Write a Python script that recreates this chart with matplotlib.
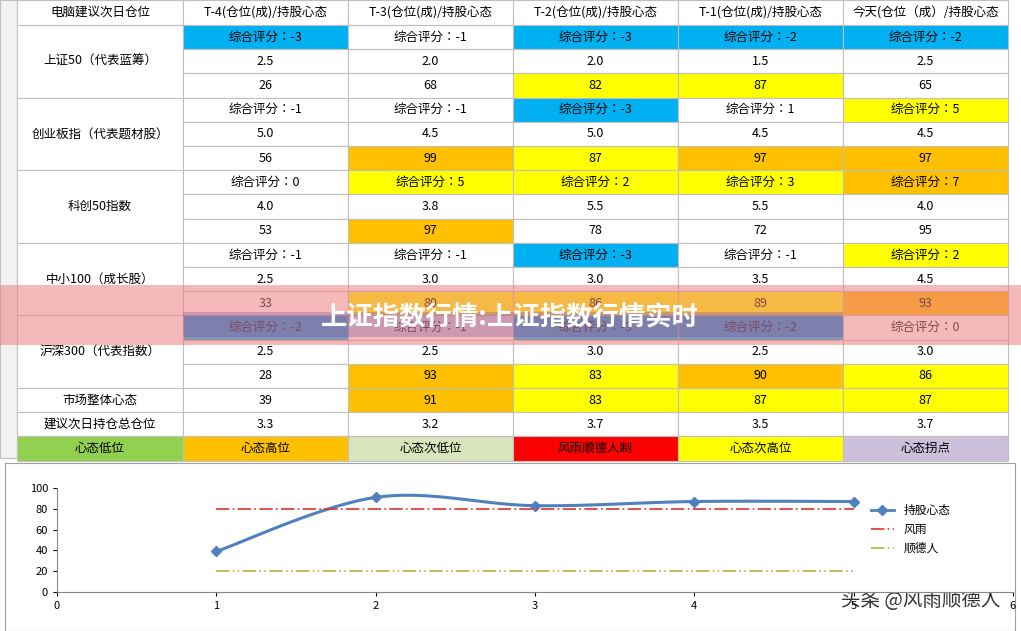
import matplotlib
matplotlib.use("Agg")
import matplotlib.pyplot as plt
from matplotlib import font_manager as fm
from matplotlib.patches import Rectangle
from matplotlib.lines import Line2D
import numpy as np

names = sorted({f.name for f in fm.fontManager.ttflist})
cjk = [n for n in names if "CJK" in n] or [n for n in names if "Noto" in n]
print(cjk)
plt.rcParams["font.family"] = cjk + ["DejaVu Sans"]

headers = ["电脑建议次日仓位", "T-4(仓位(成)/持股心态", "T-3(仓位(成)/持股心态", "T-2(仓位(成)/持股心态",
           "T-1(仓位(成)/持股心态", "今天(仓位（成）/持股心态"]
indices = ["上证50（代表蓝筹）", "创业板指（代表题材股）", "科创50指数", "中小100（成长股）", "沪深300（代表指数）"]
scores = [[-3, -1, -3, -2, -2], [-1, -1, -3, 1, 5], [0, 5, 2, 3, 7], [-1, -1, -3, -1, 2], [-2, -1, -3, -2, 0]]
score_colors = [["B", "W", "B", "B", "B"], ["W", "W", "B", "W", "Y"], ["W", "Y", "Y", "Y", "O"],
                ["W", "W", "B", "W", "Y"], ["B", "W", "B", "B", "W"]]
positions = [["2.5", "2.0", "2.0", "1.5", "2.5"], ["5.0", "4.5", "5.0", "4.5", "4.5"], ["4.0", "3.8", "5.5", "5.5", "4.0"],
             ["2.5", "3.0", "3.0", "3.5", "4.5"], ["2.5", "2.5", "3.0", "2.5", "3.0"]]
mood = [[26, 68, 82, 87, 65], [56, 99, 87, 97, 97], [53, 97, 78, 72, 95], [33, 80, 86, 89, 93], [28, 93, 83, 90, 86]]
mood_colors = [["W", "W", "Y", "Y", "W"], ["W", "O", "Y", "O", "O"], ["W", "O", "W", "W", "W"],
               ["W", "Y", "Y", "Y", "O"], ["W", "O", "Y", "O", "Y"]]
market = [39, 91, 83, 87, 87]
market_colors = ["W", "O", "Y", "Y", "Y"]
advice = ["3.3", "3.2", "3.7", "3.5", "3.7"]
legend_labels = ["心态低位", "心态高位", "心态次低位", "风雨顺德人制", "心态次高位", "心态拐点"]
legend_fill = ["#92D050", "#FFC000", "#D8E4BC", "#FF0000", "#FFFF00", "#CCC0DA"]
days = [1, 2, 3, 4, 5]
line_mood = market
line_storm = [80, 80, 80, 80, 80]
line_shunde = [20, 20, 20, 20, 20]

cmap = {"W": "white", "B": "#00B0F0", "Y": "#FFFF00", "O": "#FFC000"}

fig = plt.figure(figsize=(10.21, 6.31), dpi=100)
ax = fig.add_axes([0, 0, 1, 1])
ax.set_xlim(0, 1021); ax.set_ylim(631, 0); ax.axis("off")

xs = [17, 183, 348, 513, 678, 843, 1008]
rh = 24.2
y0 = 25
grid = "#BFBFBF"

def cell(x0, x1, ya, yb, txt, fc="white", **kw):
    ax.add_patch(Rectangle((x0, ya), x1 - x0, yb - ya, facecolor=fc, edgecolor=grid, lw=0.8))
    ax.text((x0 + x1) / 2, (ya + yb) / 2, txt, ha="center", va="center", fontsize=9, **kw)

ax.add_patch(Rectangle((0, 0), 17, 458, facecolor="#F2F2F2", edgecolor=grid, lw=0.8))
for i, h in enumerate(headers):
    cell(xs[i], xs[i + 1], 0, y0, h, fc="white")
for g in range(5):
    top = y0 + g * 3 * rh
    cell(xs[0], xs[1], top, top + 3 * rh, indices[g])
    for c in range(5):
        cell(xs[c + 1], xs[c + 2], top, top + rh, f"综合评分：{scores[g][c]}", fc=cmap[score_colors[g][c]])
        cell(xs[c + 1], xs[c + 2], top + rh, top + 2 * rh, positions[g][c])
        cell(xs[c + 1], xs[c + 2], top + 2 * rh, top + 3 * rh, str(mood[g][c]), fc=cmap[mood_colors[g][c]])
top = y0 + 15 * rh
cell(xs[0], xs[1], top, top + rh, "市场整体心态")
for c in range(5):
    cell(xs[c + 1], xs[c + 2], top, top + rh, str(market[c]), fc=cmap[market_colors[c]])
top += rh
cell(xs[0], xs[1], top, top + rh, "建议次日持仓总仓位")
for c in range(5):
    cell(xs[c + 1], xs[c + 2], top, top + rh, advice[c])
top += rh
for i in range(6):
    cell(xs[i], xs[i + 1], top, top + rh, legend_labels[i], fc=legend_fill[i])

ax.add_patch(Rectangle((0, 285), 1021, 60, facecolor="#F08080", alpha=0.55, lw=0, zorder=5))
ax.add_patch(Rectangle((183, 312), 660, 25, facecolor="#7050A0", alpha=0.3, lw=0, zorder=5))
ax.text(510, 318, "上证指数行情:上证指数行情实时", ha="center", va="center", fontsize=19,
        fontweight="bold", color="white", zorder=6)

ax.add_patch(Rectangle((5, 463), 1010, 168, facecolor="white", edgecolor="#A0A0A0", lw=0.8))

cax = fig.add_axes([57 / 1021, 1 - 592 / 631, (1013 - 57) / 1021, (592 - 488) / 631])
cax.set_xlim(0, 6); cax.set_ylim(0, 100)
cax.set_yticks(range(0, 101, 20)); cax.set_xticks(range(0, 7))
cax.tick_params(labelsize=8, length=3)
for s in ["top", "right"]:
    cax.spines[s].set_visible(False)
cax.spines["left"].set_color("#888"); cax.spines["bottom"].set_color("#888")
px = np.array(days, float); py = np.array(line_mood, float)
P = np.vstack([px, py]).T
P = np.vstack([P[0], P, P[-1]])
sx, sy = [], []
for i in range(1, len(P) - 2):
    p0, p1, p2, p3 = P[i - 1], P[i], P[i + 1], P[i + 2]
    for t in np.linspace(0, 1, 20):
        v = 0.5 * (2 * p1 + (-p0 + p2) * t + (2 * p0 - 5 * p1 + 4 * p2 - p3) * t ** 2 + (-p0 + 3 * p1 - 3 * p2 + p3) * t ** 3)
        sx.append(v[0]); sy.append(v[1])
cax.plot(sx, sy, color="#4F81BD", lw=2.2)
cax.plot(days, line_mood, "D", color="#4F81BD", ms=5)
ln2, = cax.plot(days, line_storm, color="#E03030", lw=1.2, ls=(0, (8, 2, 1, 2)))
ln3, = cax.plot(days, line_shunde, color="#B8B040", lw=1.2, ls=(0, (8, 2, 1, 2, 1, 2)))
h1 = Line2D([], [], color="#4F81BD", lw=2, marker="D", ms=5)
cax.legend([h1, ln2, ln3], ["持股心态", "风雨", "顺德人"], loc="center left",
           bbox_to_anchor=(0.84, 0.6), frameon=False, fontsize=8.5)

ax.text(1000, 601, "头条 @风雨顺德人", ha="right", va="center", fontsize=14, color="#333333", zorder=10)
fig.savefig("out.png", dpi=100)
